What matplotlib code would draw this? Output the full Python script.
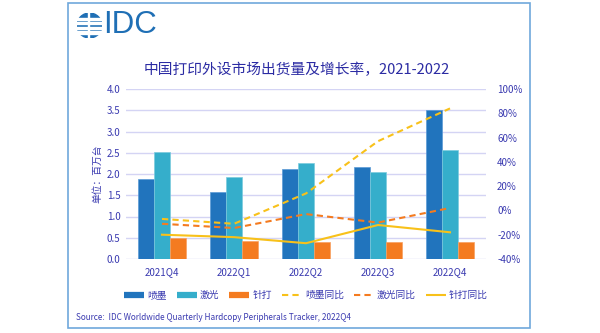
import numpy as np
import matplotlib.pyplot as plt
from matplotlib.patches import Rectangle, Circle
from matplotlib.lines import Line2D

plt.rcParams['font.family'] = ['Noto Sans CJK SC', 'DejaVu Sans']

quarters = ['2021Q4', '2022Q1', '2022Q2', '2022Q3', '2022Q4']
inkjet = [1.89, 1.58, 2.12, 2.16, 3.50]
laser = [2.52, 1.92, 2.27, 2.04, 2.56]
dotmatrix = [0.49, 0.43, 0.39, 0.40, 0.41]
inkjet_yoy = [-7, -11, 14, 57, 84]
laser_yoy = [-11, -14.5, -3, -10, 2]
dot_yoy = [-20, -22, -27, -12, -18]

c_ink = '#2174BD'
c_laser = '#35AECB'
c_dot = '#F47B20'
c_yel = '#F8C11A'
c_txt = '#3A3AB0'
c_grid = '#D4D4F4'

fig = plt.figure(figsize=(6, 3.33), dpi=100)

# outer frame
fig.patches.append(Rectangle((68/600, 5/333), 462/600, 325/333, transform=fig.transFigure,
                             fill=False, edgecolor='#6FA8DC', linewidth=1.2))

# logo
lax = fig.add_axes([77/600, (333-38)/333, 25/600, 25/333])
lax.set_xlim(-1, 1); lax.set_ylim(-1, 1); lax.axis('off')
circ = Circle((0, 0), 1, color='#1F6FB5')
lax.add_patch(circ)
for yy in [-0.55, -0.18, 0.18, 0.55]:
    lax.add_patch(Rectangle((-1.1, yy - 0.09), 2.2, 0.18, color='white'))
lax.add_patch(Rectangle((-0.15, -1.1), 0.12, 2.2, color='white'))
fig.text(103/600, (333-25)/333, 'IDC', fontsize=22.5, color='#1F6FB5', family='Liberation Sans',
         va='center', ha='left')

fig.text(297/600, (333-70)/333, '中国打印外设市场出货量及增长率，2021-2022', fontsize=10.6,
         color='#2B2BA3', ha='center', va='center')

ax = fig.add_axes([126/600, 74/333, 360/600, 170/333])
x = np.arange(len(quarters))
w = 0.222
ax.bar(x - w, inkjet, w, color=c_ink, edgecolor='#5A9AD6', linewidth=0.5, label='喷墨', zorder=2)
ax.bar(x, laser, w, color=c_laser, edgecolor='#7CCBDD', linewidth=0.5, label='激光', zorder=2)
ax.bar(x + w, dotmatrix, w, color=c_dot, edgecolor='#F8A060', linewidth=0.5, label='针打', zorder=2)
ax.set_xlim(-0.5, 4.5)
ax.set_ylim(0, 4.0)
ax.set_yticks(np.arange(0, 4.01, 0.5))
ax.set_yticklabels([f'{v:.1f}' for v in np.arange(0, 4.01, 0.5)])
ax.set_xticks(x)
ax.set_xticklabels(quarters)
ax.grid(axis='y', color=c_grid, linewidth=1, zorder=0)
ax.set_axisbelow(True)
for s in ax.spines.values():
    s.set_visible(False)
ax.tick_params(length=0, labelsize=7, colors=c_txt, pad=4)
ax.tick_params(axis='x', pad=6)
ax.set_ylabel('单位：百万台', fontsize=7, color=c_txt, labelpad=3)

ax2 = ax.twinx()
ax2.plot(x, inkjet_yoy, color=c_yel, linestyle=(0, (3, 2)), linewidth=1.5)
ax2.plot(x, laser_yoy, color=c_dot, linestyle=(0, (3, 2)), linewidth=1.5)
ax2.plot(x, dot_yoy, color=c_yel, linestyle='-', linewidth=1.5)
ax2.set_ylim(-40, 100)
ax2.set_yticks(range(-40, 101, 20))
ax2.set_yticklabels([f'{v}%' for v in range(-40, 101, 20)])
for s in ax2.spines.values():
    s.set_visible(False)
ax2.tick_params(length=0, labelsize=7, colors=c_txt, pad=8)

handles = [Line2D([], [], color=c_ink, lw=4.5, solid_capstyle='butt'),
           Line2D([], [], color=c_laser, lw=4.5, solid_capstyle='butt'),
           Line2D([], [], color=c_dot, lw=4.5, solid_capstyle='butt'),
           Line2D([], [], color=c_yel, lw=1.5, ls=(0, (3, 2))),
           Line2D([], [], color=c_dot, lw=1.5, ls=(0, (3, 2))),
           Line2D([], [], color=c_yel, lw=1.5, solid_capstyle='butt')]
labels = ['喷墨', '激光', '针打', '喷墨同比', '激光同比', '针打同比']
leg = fig.legend(handles, labels, loc='center', bbox_to_anchor=(306/600, (333-295)/333), ncol=6,
                 frameon=False, fontsize=7, handlelength=2.1, handletextpad=0.3, columnspacing=1.0)
for t in leg.get_texts():
    t.set_color(c_txt)

fig.text(76/600, (333-318)/333, 'Source:  IDC Worldwide Quarterly Hardcopy Peripherals Tracker, 2022Q4',
         fontsize=5.9, color=c_txt, ha='left', va='center')

fig.savefig('out.png', dpi=100)
